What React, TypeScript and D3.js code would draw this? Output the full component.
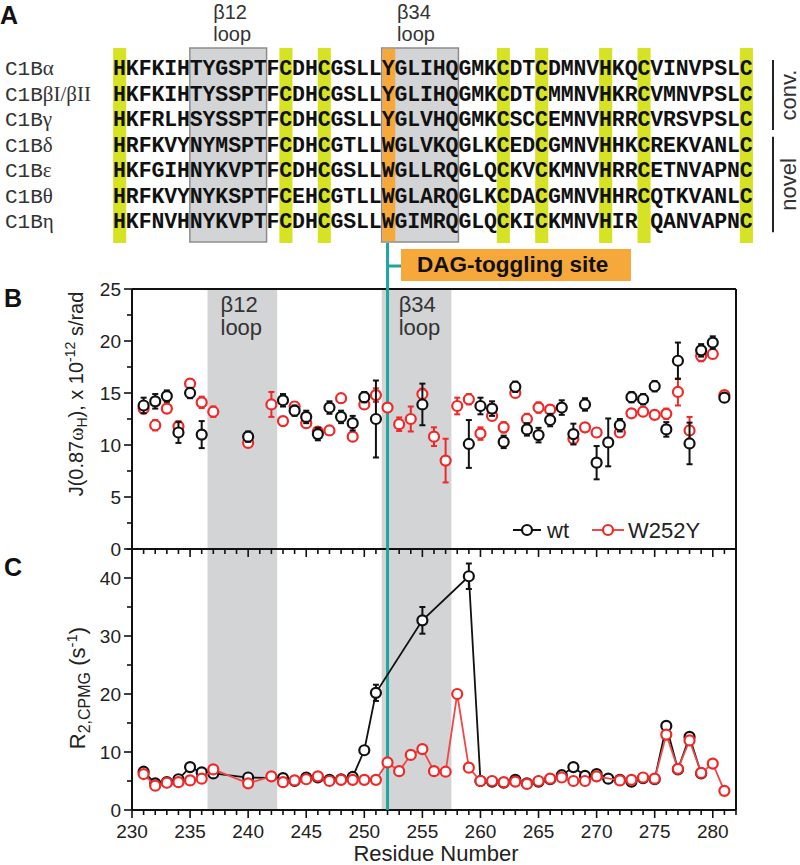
import React from 'react';
import * as d3 from 'd3';

// ---------- Panel A data ----------
const SEQ_PREFIX = 'C1B';
const SEQ_ISOFORMS = ['α', 'βI/βII', 'γ', 'δ', 'ε', 'θ', 'η'];
const SEQUENCES = [
  'HKFKIHTYGSPTFCDHCGSLLYGLIHQGMKCDTCDMNVHKQCVINVPSLC',
  'HKFKIHTYSSPTFCDHCGSLLYGLIHQGMKCDTCMMNVHKRCVMNVPSLC',
  'HKFRLHSYSSPTFCDHCGSLLYGLVHQGMKCSCCEMNVHRRCVRSVPSLC',
  'HRFKVYNYMSPTFCDHCGTLLWGLVKQGLKCEDCGMNVHHKCREKVANLC',
  'HKFGIHNYKVPTFCDHCGSLLWGLLRQGLQCKVCKMNVHRRCETNVAPNC',
  'HRFKVYNYKSPTFCEHCGTLLWGLARQGLKCDACGMNVHHRCQTKVANLC',
  'HKFNVHNYKVPTFCDHCGSLLWGIMRQGLQCKICKMNVHIR QANVAPNC',
];
const YELLOW_COLS = [0, 13, 16, 30, 33, 38, 41, 49];
const ORANGE_COL = 21;
const SEQ_LOOP_COLS = [[6, 11], [21, 26]];
const LOOP_NAMES = ['β12', 'β34'];
const GROUP_NAMES = ['conv.', 'novel'];
const GROUP_ROWS = [[0, 2], [3, 6]];

// ---------- Panel B/C shared ----------
const LOOP_RESIDUES = [[236.5, 242.5], [251.5, 257.5]];
const TOGGLE_RESIDUE = 252;
const X_TICK_LABELS = [230, 235, 240, 245, 250, 255, 260, 265, 270, 275, 280];
const B_TICKS = [0, 5, 10, 15, 20, 25];
const C_TICKS = [0, 10, 20, 30, 40];

// ---------- Panel B data: J(0.87 wH) ----------
const B_WT_RES = [231, 232, 233, 234, 235, 236, 240, 243, 244, 245, 246, 247, 248, 249, 250, 251, 255, 259, 260, 261, 262, 263, 264, 265, 266, 267, 268, 269, 270, 271, 272, 273, 274, 275, 276, 277, 278, 279, 280, 281];
const B_WT_VAL = [13.8, 14.2, 14.7, 11.2, 15.0, 11.0, 10.8, 14.3, 13.3, 12.7, 11.05, 13.6, 12.7, 12.1, 14.6, 12.5, 13.9, 10.1, 13.75, 13.5, 10.3, 15.6, 11.5, 10.95, 12.4, 13.6, 11.05, 13.9, 8.3, 10.25, 11.9, 14.6, 14.4, 15.65, 11.5, 18.1, 10.15, 19.1, 19.85, 14.55];
const B_WT_ERR = [0.75, 0.7, 0.55, 1.0, 0.5, 1.3, 0.5, 0.6, 0.5, 0.6, 0.6, 0.6, 0.6, 0.7, 0.5, 3.7, 2.0, 2.3, 0.8, 0.7, 0.6, 0.5, 0.6, 0.7, 0.6, 0.7, 1.0, 0.6, 1.6, 2.3, 0.6, 0.5, 0.5, 0.5, 0.7, 1.75, 2.0, 0.6, 0.6, 0.3];

const B_MUT_RES = [231, 232, 233, 234, 235, 236, 237, 240, 242, 243, 244, 245, 246, 247, 248, 249, 250, 251, 252, 253, 254, 255, 256, 257, 258, 259, 260, 261, 262, 263, 264, 265, 266, 268, 269, 270, 272, 273, 274, 275, 276, 277, 278, 279, 280, 281];
const B_MUT_VAL = [13.5, 11.9, 13.5, 11.8, 15.9, 14.1, 13.2, 10.2, 13.9, 12.3, 13.7, 12.1, 11.3, 11.4, 14.5, 10.8, 13.9, 14.8, 13.6, 12.0, 12.5, 14.9, 10.8, 8.5, 13.75, 14.4, 11.1, 12.8, 11.7, 15.0, 12.5, 13.6, 13.4, 10.6, 11.7, 11.2, 11.2, 13.05, 13.2, 12.9, 13.0, 15.1, 11.4, 18.55, 18.75, 14.8];
const B_MUT_ERR = [0.4, 0.5, 0.4, 0.5, 0.4, 0.55, 0.5, 0.3, 1.2, 0.4, 0.4, 0.4, 0.4, 0.4, 0.4, 0.4, 0.4, 0.65, 0.4, 0.65, 1.2, 0.5, 0.9, 2.1, 0.8, 0.5, 0.6, 0.4, 0.5, 0.4, 0.5, 0.5, 0.4, 0.5, 0.4, 0.4, 0.4, 0.4, 0.4, 0.4, 0.5, 1.3, 1.3, 0.5, 0.4, 0.3];

// ---------- Panel C data: R2,CPMG ----------
const C_WT_RES = [231, 232, 233, 234, 235, 236, 237, 240, 243, 244, 245, 246, 247, 248, 249, 250, 251, 255, 259, 260, 261, 262, 263, 264, 265, 266, 267, 268, 269, 270, 271, 272, 273, 274, 275, 276, 277, 278, 279];
const C_WT_VAL = [6.6, 4.6, 4.8, 5.3, 7.4, 6.5, 6.3, 5.6, 5.5, 5.0, 5.6, 5.6, 5.2, 5.3, 5.7, 10.3, 20.2, 32.7, 40.3, 5.0, 4.9, 4.7, 5.2, 4.6, 4.9, 5.3, 6.0, 7.4, 5.9, 6.2, 5.4, 5.2, 4.9, 5.5, 5.3, 14.5, 7.0, 12.6, 6.3];
const C_WT_ERR = [0, 0, 0, 0, 0, 0, 0, 0, 0, 0, 0, 0, 0, 0, 0, 0, 1.4, 2.3, 2.2, 0, 0, 0, 0, 0, 0, 0, 0, 0, 0, 0, 0, 0, 0, 0, 0, 0, 0, 0, 0];

const C_MUT_RES = [231, 232, 233, 234, 235, 236, 237, 240, 242, 243, 244, 245, 246, 247, 248, 249, 250, 251, 252, 253, 254, 255, 256, 257, 258, 259, 260, 261, 262, 263, 264, 265, 266, 267, 268, 269, 270, 272, 273, 274, 275, 276, 277, 278, 279, 280, 281];
const C_MUT_VAL = [6.2, 4.2, 4.7, 4.8, 5.1, 5.4, 7.0, 4.6, 5.8, 4.8, 5.1, 5.3, 5.8, 5.0, 5.2, 5.2, 5.2, 5.2, 8.2, 6.7, 9.5, 10.5, 6.7, 6.6, 20.0, 7.3, 5.0, 5.0, 4.8, 4.9, 4.5, 5.0, 5.4, 5.6, 5.0, 5.0, 5.8, 5.1, 5.2, 5.6, 5.4, 13.0, 7.1, 12.0, 6.4, 8.0, 3.3];

const SERIES_NAMES = ['wt', 'W252Y'];

// ---------- Styles ----------
const SANS = 'Liberation Sans, Arial, sans-serif';
const MONO = 'Liberation Mono, Courier New, monospace';
const SERIF = 'Liberation Serif, Times New Roman, serif';
const BLACK = '#111111';
const RED = '#f02828';
const RED_LINE = '#f04848';
const GRAY = '#d3d4d6';
const TEAL = '#1fa59c';
const ORANGE = '#f7a83a';
const YELLOW = '#d6e224';

export default function App() {
  const x = d3.scaleLinear().domain([230, 282]).range([132, 736]);
  const yB = d3.scaleLinear().domain([0, 25]).range([549, 289]);
  const yC = d3.scaleLinear().domain([0, 45]).range([810, 549]);
  const col = d3.scaleLinear().domain([0, 49]).range([119.5, 119.5 + 49 * 12.79]);
  const rowY = d3.scaleLinear().domain([0, 6]).range([75, 228.3]);
  const colW = 12.79;
  const seqTop = 48;
  const seqBot = 242;

  const xMinor = d3.range(230, 283);
  const bMinor = d3.range(0, 25.01, 2.5);
  const cMinor = d3.range(0, 45.01, 5);

  const toPts = (res: number[], val: number[], err?: number[]) =>
    res.map((r, i) => ({ r, v: val[i], e: err ? err[i] : 0 }));

  const bWt = toPts(B_WT_RES, B_WT_VAL, B_WT_ERR);
  const bMut = toPts(B_MUT_RES, B_MUT_VAL, B_MUT_ERR);
  const cWt = toPts(C_WT_RES, C_WT_VAL, C_WT_ERR);
  const cMut = toPts(C_MUT_RES, C_MUT_VAL);

  const lineC = d3
    .line<{ r: number; v: number }>()
    .x((d) => x(d.r))
    .y((d) => yC(d.v));

  const errBars = (pts: { r: number; v: number; e: number }[], y: d3.ScaleLinear<number, number>, color: string) =>
    pts
      .filter((p) => p.e > 0)
      .map((p, i) => {
        const cx = x(p.r);
        const y1 = y(p.v + p.e);
        const y2 = y(p.v - p.e);
        return (
          <g key={'e' + i} stroke={color} strokeWidth={2}>
            <line x1={cx} x2={cx} y1={y1} y2={y2} />
            <line x1={cx - 3} x2={cx + 3} y1={y1} y2={y1} />
            <line x1={cx - 3} x2={cx + 3} y1={y2} y2={y2} />
          </g>
        );
      });

  const circles = (pts: { r: number; v: number }[], y: d3.ScaleLinear<number, number>, color: string) =>
    pts.map((p, i) => (
      <circle key={'c' + i} cx={x(p.r)} cy={y(p.v)} r={5} fill="white" stroke={color} strokeWidth={2.2} />
    ));

  const tealX = x(TOGGLE_RESIDUE);

  return (
    <svg width={800} height={865} style={{ position: 'absolute', left: 0, top: 0, background: 'white' }}>
      {/* ================= Panel A ================= */}
      <text x={0} y={24} fontFamily={SANS} fontWeight="bold" fontSize={25} fill="#111">A</text>

      {YELLOW_COLS.map((c) => (
        <rect key={'y' + c} x={col(c) - colW / 2} y={seqTop} width={colW + 0.3} height={seqBot - seqTop + 1} fill={YELLOW} />
      ))}
      {SEQ_LOOP_COLS.map(([a, b], i) => (
        <g key={'lb' + i}>
          <rect x={col(a) - colW / 2} y={seqTop} width={col(b) - col(a) + colW} height={seqBot - seqTop} fill={GRAY} stroke="#8c8c8c" strokeWidth={1.5} />
          <text x={col(a) + (i === 0 ? 17 : 9)} y={19} fontFamily={SANS} fontSize={20} fill="#333">{LOOP_NAMES[i]}</text>
          <text x={col(a) + (i === 0 ? 17 : 9)} y={41} fontFamily={SANS} fontSize={20} fill="#333">loop</text>
        </g>
      ))}
      <rect x={col(ORANGE_COL) - colW / 2 + 0.8} y={seqTop + 0.8} width={colW} height={seqBot - seqTop - 1.6} fill={ORANGE} />

      {SEQUENCES.map((s, ri) => (
        <g key={'row' + ri}>
          <text x={5} y={rowY(ri)} fontSize={21} fill="#333">
            <tspan fontFamily={MONO}>{SEQ_PREFIX}</tspan>
            <tspan fontFamily={SERIF}>{SEQ_ISOFORMS[ri]}</tspan>
          </text>
          {s.split('').map((ch, ci) =>
            ch === ' ' ? null : (
              <text key={ci} x={col(ci)} y={rowY(ri)} textAnchor="middle" fontFamily={MONO} fontWeight="bold" fontSize={21.5} fill="#111">
                {ch}
              </text>
            )
          )}
        </g>
      ))}

      {GROUP_ROWS.map(([a, b], i) => {
        const y1 = rowY(a) - 15;
        const y2 = rowY(b) + 4;
        const ym = (y1 + y2) / 2;
        return (
          <g key={'gr' + i}>
            <line x1={773} x2={773} y1={y1} y2={y2} stroke="#222" strokeWidth={2} />
            <text transform={`translate(796,${ym}) rotate(-90)`} textAnchor="middle" fontFamily={SANS} fontSize={22} fill="#333">
              {GROUP_NAMES[i]}
            </text>
          </g>
        );
      })}

      <line x1={tealX} x2={401} y1={266} y2={266} stroke={TEAL} strokeWidth={3} />
      <rect x={401} y={249} width={230} height={32} fill={ORANGE} />
      <text x={417} y={272} fontFamily={SANS} fontWeight="bold" fontSize={22.5} fill="#111">DAG-toggling site</text>

      {/* ================= Panels B & C backgrounds ================= */}
      {LOOP_RESIDUES.map(([a, b], i) => (
        <rect key={'gs' + i} x={x(a)} y={289} width={x(b) - x(a)} height={810 - 289} fill={GRAY} />
      ))}
      {LOOP_RESIDUES.map(([a], i) => (
        <g key={'gl' + i}>
          <text x={x(a) + (i === 0 ? 13 : 17)} y={312} fontFamily={SANS} fontSize={22} fill="#333">{LOOP_NAMES[i]}</text>
          <text x={x(a) + (i === 0 ? 13 : 17)} y={335} fontFamily={SANS} fontSize={22} fill="#333">loop</text>
        </g>
      ))}

      <line x1={132} x2={736} y1={289} y2={289} stroke="#111" strokeWidth={2} />
      <line x1={736} x2={736} y1={289} y2={810} stroke="#111" strokeWidth={2} />
      <line x1={132} x2={132} y1={289} y2={810} stroke="#111" strokeWidth={2} />
      <line x1={132} x2={736} y1={549} y2={549} stroke="#111" strokeWidth={2} />
      <line x1={132} x2={736} y1={810} y2={810} stroke="#111" strokeWidth={2} />

      {xMinor.map((t) => {
        const major = t % 5 === 0;
        const len = major ? 8 : 5;
        return (
          <g key={'xt' + t} stroke="#111" strokeWidth={1.6}>
            <line x1={x(t)} x2={x(t)} y1={549} y2={549 + len} />
            <line x1={x(t)} x2={x(t)} y1={810} y2={810 + len} />
          </g>
        );
      })}
      {X_TICK_LABELS.map((t) => (
        <text key={'xl' + t} x={x(t)} y={838} textAnchor="middle" fontFamily={SANS} fontSize={19} fill="#222">{t}</text>
      ))}
      <text x={436} y={861} textAnchor="middle" fontFamily={SANS} fontSize={22} fill="#222">Residue Number</text>

      {bMinor.map((t) => {
        const major = t % 5 === 0;
        return <line key={'bt' + t} x1={132 - (major ? 8 : 5)} x2={132} y1={yB(t)} y2={yB(t)} stroke="#111" strokeWidth={1.6} />;
      })}
      {B_TICKS.map((t) => (
        <text key={'bl' + t} x={121} y={yB(t) + 6.5} textAnchor="end" fontFamily={SANS} fontSize={19} fill="#222">{t}</text>
      ))}
      {cMinor.map((t) => {
        const major = t % 10 === 0;
        return <line key={'ct' + t} x1={132 - (major ? 8 : 5)} x2={132} y1={yC(t)} y2={yC(t)} stroke="#111" strokeWidth={1.6} />;
      })}
      {C_TICKS.map((t) => (
        <text key={'cl' + t} x={121} y={yC(t) + 6.5} textAnchor="end" fontFamily={SANS} fontSize={19} fill="#222">{t}</text>
      ))}

      <text transform="translate(83,394) rotate(-90)" textAnchor="middle" fontFamily={SANS} fontSize={20} fill="#222">
        J(0.87<tspan fontFamily={SERIF}>ω</tspan>
        <tspan fontSize={14} dy={4}>H</tspan>
        <tspan dy={-4}>), x 10</tspan>
        <tspan fontSize={14} dy={-8}>-12</tspan>
        <tspan dy={8}> s/rad</tspan>
      </text>
      <text transform="translate(85,688) rotate(-90)" textAnchor="middle" fontFamily={SANS} fontSize={22} fill="#222">
        R<tspan fontSize={16} dy={5}>2,CPMG</tspan>
        <tspan dy={-5}> (s</tspan>
        <tspan fontSize={15} dy={-8}>-1</tspan>
        <tspan dy={8}>)</tspan>
      </text>

      <text x={4} y={307} fontFamily={SANS} fontWeight="bold" fontSize={25} fill="#111">B</text>
      <text x={4} y={576} fontFamily={SANS} fontWeight="bold" fontSize={25} fill="#111">C</text>

      <line x1={tealX} x2={tealX} y1={243} y2={810} stroke={TEAL} strokeWidth={3} />

      {/* ================= Panel B data ================= */}
      {errBars(bMut, yB, RED)}
      {circles(bMut, yB, RED)}
      {errBars(bWt, yB, BLACK)}
      {circles(bWt, yB, BLACK)}

      <line x1={513} x2={541} y1={530} y2={530} stroke={BLACK} strokeWidth={2} />
      <circle cx={527} cy={530} r={5} fill="white" stroke={BLACK} strokeWidth={2.2} />
      <text x={547} y={538} fontFamily={SANS} fontSize={22} fill="#222">{SERIES_NAMES[0]}</text>
      <line x1={592} x2={624} y1={530} y2={530} stroke={RED_LINE} strokeWidth={2} />
      <circle cx={608} cy={530} r={5} fill="white" stroke={RED} strokeWidth={2.2} />
      <text x={628} y={538} fontFamily={SANS} fontSize={22} fill="#222">{SERIES_NAMES[1]}</text>

      {/* ================= Panel C data ================= */}
      <path d={lineC(cWt) || ''} fill="none" stroke={BLACK} strokeWidth={1.8} />
      {errBars(cWt, yC, BLACK)}
      {circles(cWt, yC, BLACK)}
      <path d={lineC(cMut) || ''} fill="none" stroke={RED_LINE} strokeWidth={1.8} />
      {circles(cMut, yC, RED)}
    </svg>
  );
}
